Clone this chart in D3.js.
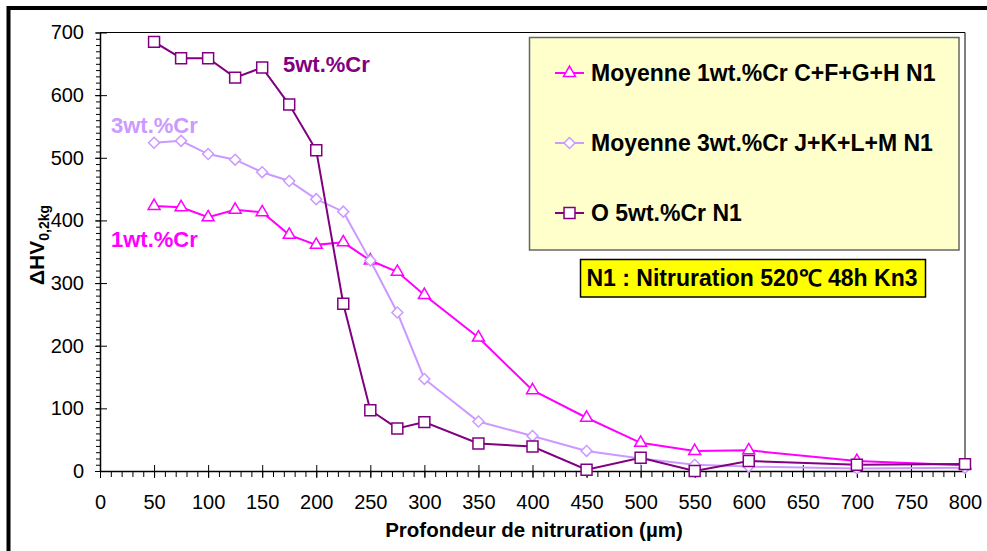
<!DOCTYPE html>
<html>
<head>
<meta charset="utf-8">
<script src="https://cdn.jsdelivr.net/npm/d3@7"></script>
<style>
  html, body { margin: 0; padding: 0; background: #fff; }
  svg { display: block; font-family: "Liberation Sans", Arial, sans-serif; }
</style>
</head>
<body>
<svg id="chart" width="987" height="551"></svg>
<script>
// ---- data ----
const depths = [50, 75, 100, 125, 150, 175, 200, 225, 250, 275, 300, 350, 400, 450, 500, 550, 600, 700, 800];
const cr1 = [423, 421, 405, 417, 413, 377, 361, 365, 336, 318, 281, 213, 129, 85, 45, 32, 33, 16, 9];
const cr3 = [524, 527, 506, 497, 477, 463, 434, 414, 336, 253, 147, 79, 56, 32, 20, 10, 7, 4, 5];
const cr5 = [685, 659, 659, 628, 644, 585, 512, 267, 97, 68, 78, 44, 39, 2, 21, 0, 16, 10, 11];
const seriesNames = ["Moyenne 1wt.%Cr C+F+G+H N1", "Moyenne 3wt.%Cr J+K+L+M N1", "O 5wt.%Cr N1"];
const annotations = ["1wt.%Cr", "3wt.%Cr", "5wt.%Cr"];
const xTicks = [0, 50, 100, 150, 200, 250, 300, 350, 400, 450, 500, 550, 600, 650, 700, 750, 800];
const yTicks = [0, 100, 200, 300, 400, 500, 600, 700];
const xTitle = "Profondeur de nitruration (µm)";
const noteText = "N1 : Nitruration 520℃ 48h Kn3";

const svg = d3.select("#chart");
const x = d3.scaleLinear().domain([0, 800]).range([100, 965]);
const y = d3.scaleLinear().domain([0, 700]).range([471, 32.5]);

// outer frame
svg.append("rect").attr("x", 8.5).attr("y", 8).attr("width", 1000).attr("height", 600)
  .attr("fill", "none").attr("stroke", "#000").attr("stroke-width", 4);

// plot area border (top and right)
svg.append("path")
  .attr("d", `M${x(0)},${y(700)}H${x(800)}V${y(0)}`)
  .attr("fill", "none").attr("stroke", "#000").attr("stroke-width", 1);

// minor ticks
const yMinor = d3.range(0, 701, 10);
const xMinor = d3.range(0, 801, 10);
svg.append("g").attr("transform", `translate(${x(0)},0)`)
  .call(d3.axisLeft(y).tickValues(yMinor).tickSize(4).tickFormat(""))
  .call(g => g.select(".domain").remove())
  .selectAll("line").attr("stroke", "#000");
svg.append("g").attr("transform", `translate(0,${y(0)})`)
  .call(d3.axisBottom(x).tickValues(xMinor).tickSize(6).tickFormat(""))
  .call(g => g.select(".domain").remove())
  .selectAll("line").attr("stroke", "#000");

// major ticks, inside part
svg.append("g").attr("transform", `translate(${x(0)},0)`)
  .call(d3.axisRight(y).tickValues(yTicks).tickSize(7).tickFormat(""))
  .call(g => g.select(".domain").remove());
svg.append("g").attr("transform", `translate(0,${y(0)})`)
  .call(d3.axisTop(x).tickValues(xTicks).tickSize(6).tickFormat(""))
  .call(g => g.select(".domain").remove());

// major axes with labels
const yAxis = svg.append("g").attr("transform", `translate(${x(0)},0)`)
  .call(d3.axisLeft(y).tickValues(yTicks).tickSize(5).tickPadding(11).tickSizeOuter(0));
const xAxis = svg.append("g").attr("transform", `translate(0,${y(0)})`)
  .call(d3.axisBottom(x).tickValues(xTicks).tickSize(7).tickPadding(17).tickSizeOuter(0));
[yAxis, xAxis].forEach(a => {
  a.selectAll("text").attr("font-size", 20).attr("fill", "#000")
    .attr("font-family", "'Liberation Sans', Arial, sans-serif");
  a.select(".domain").attr("stroke", "#000").attr("stroke-width", 1.5);
  a.selectAll("line").attr("stroke", "#000");
});

// axis titles
svg.append("text").attr("x", 534).attr("y", 537).attr("text-anchor", "middle")
  .attr("font-weight", "bold").attr("font-size", 20.5).text(xTitle);
const yt = svg.append("text").attr("transform", "translate(44,245) rotate(-90)")
  .attr("text-anchor", "middle").attr("font-weight", "bold").attr("font-size", 21);
yt.append("tspan").text("ΔHV");
yt.append("tspan").attr("font-size", 14).attr("dy", 5).text("0,2kg");

// series
const colors = ["#ff00ff", "#cc99ff", "#800080"];
const series = [cr1, cr3, cr5];
const shapes = [d3.symbolTriangle, d3.symbolSquare, d3.symbolSquare];
const shapeSizes = [62, 60, 120];
const shapeRot = [0, 45, 0];

const line = d3.line().x(d => x(d[0])).y(d => y(d[1]));
series.forEach((vals, i) => {
  const pts = depths.map((d, j) => [d, vals[j]]);
  svg.append("path").datum(pts).attr("d", line)
    .attr("fill", "none").attr("stroke", colors[i]).attr("stroke-width", 2);
});
series.forEach((vals, i) => {
  const pts = depths.map((d, j) => [d, vals[j]]);
  svg.append("g").selectAll("path").data(pts).join("path")
    .attr("transform", d => `translate(${x(d[0])},${y(d[1])}) rotate(${shapeRot[i]})`)
    .attr("d", d3.symbol().type(shapes[i]).size(shapeSizes[i]))
    .attr("fill", "#fff").attr("stroke", colors[i]).attr("stroke-width", 1.5);
});

// annotations
const annPos = [[111, 247], [111, 133], [283, 72]];
annotations.forEach((t, i) => {
  svg.append("text").attr("x", annPos[i][0]).attr("y", annPos[i][1])
    .attr("font-weight", "bold").attr("font-size", 22).attr("fill", colors[i]).text(t);
});

// legend
svg.append("rect").attr("x", 529.5).attr("y", 37.5).attr("width", 429.5).attr("height", 212.5)
  .attr("fill", "#ffffcc").attr("stroke", "#666").attr("stroke-width", 1.5);
const legY = [73, 143, 213];
seriesNames.forEach((n, i) => {
  const g = svg.append("g");
  g.append("line").attr("x1", 555).attr("x2", 584).attr("y1", legY[i]).attr("y2", legY[i])
    .attr("stroke", colors[i]).attr("stroke-width", 2);
  g.append("path").attr("transform", `translate(569.5,${legY[i]}) rotate(${shapeRot[i]})`)
    .attr("d", d3.symbol().type(shapes[i]).size(shapeSizes[i]))
    .attr("fill", "#fff").attr("stroke", colors[i]).attr("stroke-width", 1.5);
  g.append("text").attr("x", 591).attr("y", legY[i] + 8)
    .attr("font-weight", "bold").attr("font-size", 23).attr("fill", "#000").text(n);
});

// note box
svg.append("rect").attr("x", 580.5).attr("y", 259.5).attr("width", 345).attr("height", 37.5)
  .attr("fill", "#ffff00").attr("stroke", "#000").attr("stroke-width", 1.5);
svg.append("text").attr("x", 752).attr("y", 286).attr("text-anchor", "middle")
  .attr("font-weight", "bold").attr("font-size", 23).attr("fill", "#000").text(noteText);
</script>
</body>
</html>
